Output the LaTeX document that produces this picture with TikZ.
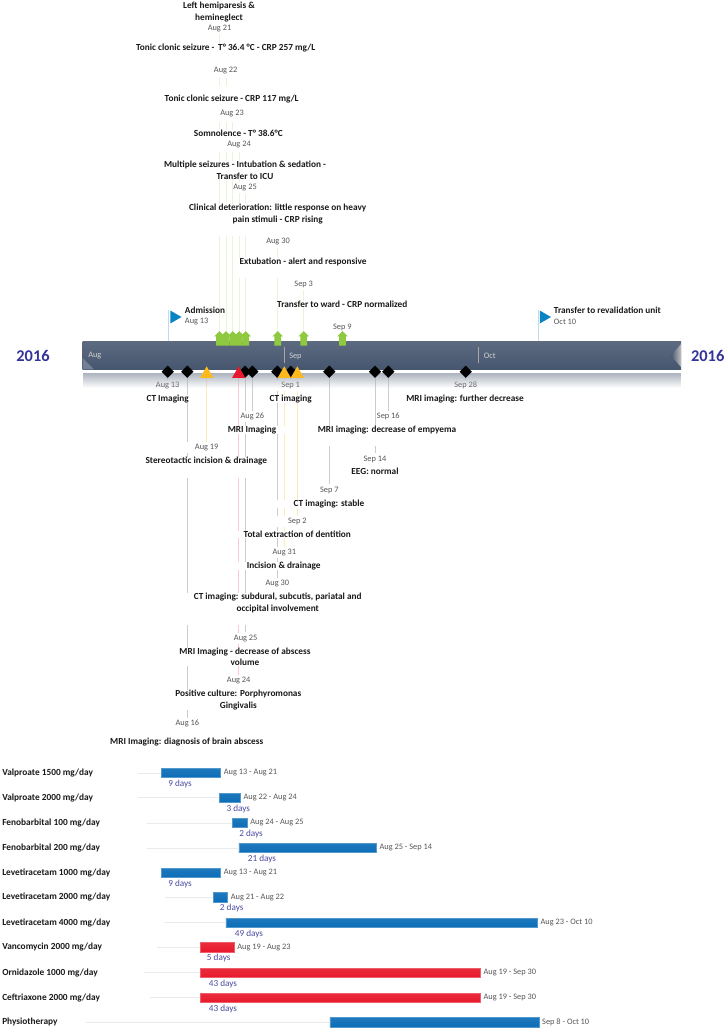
\documentclass[tikz,border=0pt]{standalone}
\usepackage{fontspec}
\setmainfont{Carlito}
\usetikzlibrary{positioning,shapes.geometric,shapes.arrows,fadings}
\definecolor{MyBar}{HTML}{46566F}
\definecolor{MyYear}{HTML}{33339A}
\definecolor{MyDate}{HTML}{555555}
\definecolor{MyDays}{HTML}{4A4AA0}
\definecolor{MyGreen}{HTML}{8FC93F}
\definecolor{MyYellow}{HTML}{FBB91C}
\definecolor{MyRed}{HTML}{E8192C}
\definecolor{MyBlue}{HTML}{0B6DB7}
\newcommand{\padbelow}[1]{\rule[-#1pt]{0pt}{0pt}}
\newcommand{\padabove}[1]{\rule{0pt}{#1pt}}
\pgfdeclarelayer{background}
\pgfdeclarelayer{foreground}
\pgfsetlayers{background,main,foreground}
\tikzset{
    evtitle/.style={
      anchor=north,
      yshift=-1.1pt,
      align=center,
      fill=white,
      inner sep=0pt,
      text=black!90,
      font=\fontsize{6.95}{8.6}\selectfont\bfseries
    },
    evdate/.style={
      fill=white,
      inner sep=0.5pt,
      minimum height=8.6pt,
      text=MyDate,
      font=\fontsize{6.25}{8}\selectfont
    },
    flagtitle/.style={
      anchor=west,
      inner sep=0pt,
      text=black!90,
      font=\fontsize{6.95}{8.6}\selectfont\bfseries
    },
    flagdate/.style={
      anchor=west,
      inner sep=0pt,
      text=MyDate,
      font=\fontsize{6.25}{8}\selectfont
    },
    yearlabel/.style={text=MyYear, font=\fontsize{12.3}{14}\selectfont\bfseries},
    monthlabel/.style={anchor=west, inner sep=0pt, text=black!18, font=\fontsize{6.25}{8}\selectfont},
    arrowmark/.style={
      single arrow,
      shape border rotate=90,
      fill=MyGreen,
      inner sep=2.3pt,
      minimum height=10.8pt,
      single arrow head extend=1.5pt
    },
    diamondmark/.style={diamond, fill=black, inner sep=0pt, minimum width=9.4pt, minimum height=9.4pt},
    yellowmark/.style={regular polygon, regular polygon sides=3, fill=MyYellow, inner sep=0pt, minimum size=11.5pt},
    redmark/.style={regular polygon, regular polygon sides=3, fill=MyRed, inner sep=0pt, minimum size=11.5pt},
    flagmark/.style={regular polygon, regular polygon sides=3, shape border rotate=-90, fill=MyBlue!85!cyan, inner sep=0pt, minimum size=11.25pt},
    stemgreen/.style={draw=MyGreen!20, line width=0.6pt},
    stemgray/.style={draw=black!20, line width=0.7pt},
    stemyellow/.style={draw=MyYellow!30, line width=0.7pt},
    stemred/.style={draw=MyRed!22, line width=0.7pt},
    polestem/.style={draw=MyBlue!25, line width=0.7pt},
    leadline/.style={draw=black!8, line width=0.7pt},
    bluebar/.style={anchor=west, draw=MyBlue!70, line width=0.3pt, top color=MyBlue!92!white, bottom color=MyBlue, inner sep=0pt, minimum height=7pt},
    redbar/.style={anchor=west, draw=MyRed!70, line width=0.3pt, top color=MyRed!92!white, bottom color=MyRed, inner sep=0pt, minimum height=7pt},
    druglabel/.style={anchor=west, inner sep=0pt, text=black!90, font=\fontsize{7}{8}\selectfont\bfseries},
    rangelabel/.style={anchor=west, inner sep=0pt, text=MyDate, font=\fontsize{6.25}{8}\selectfont},
    dayslabel/.style={inner sep=0pt, text=MyDays, font=\fontsize{6.9}{8}\selectfont},
}

\begin{document}
\begin{tikzpicture}[x=0.75pt,y=-0.75pt]
    \useasboundingbox (0,0) rectangle (726,1029);

    % events above the bar
    \node[evtitle] at (219,0.3) (tupAugXXI) {Left hemiparesis \&\\hemineglect};
    \node[evdate] at (219.5,28.3) (dupAugXXI) {Aug 21};
    \node[evtitle] at (225.7,42.6) (tupAugXXII) {Tonic clonic seizure - \,T° 36.4 °C - CRP 257 mg/L\padbelow{20}};
    \node[evdate] at (225.7,71) (dupAugXXII) {Aug 22};
    \node[evtitle] at (231.7,84) (tupAugXXIII) {\padabove{11.5}Tonic clonic seizure - CRP 117 mg/L\padbelow{15.7}};
    \node[evdate] at (232,113.7) (dupAugXXIII) {Aug 23};
    \node[evtitle] at (238.3,128.3) (tupAugXXIV) {Somnolence - T° 38.6°C\padbelow{11.5}};
    \node[evdate] at (239,145) (dupAugXXIV) {Aug 24};
    \node[evtitle] at (245,159.3) (tupAugXXV) {Multiple seizures - Intubation \& sedation -\\Transfer to ICU};
    \node[evdate] at (245,187.7) (dupAugXXV) {Aug 25};
    \node[evtitle] at (277.7,202.3) (tupAugXXX) {Clinical deterioration: little response on heavy\\pain stimuli - CRP rising\padbelow{10.7}};
    \node[evdate] at (278,241.7) (dupAugXXX) {Aug 30};
    \node[evtitle,minimum width=97.5pt] at (303,256.3) (tupSepIII) {Extubation - alert and responsive\padbelow{10}};
    \node[evdate] at (303.7,284) (dupSepIII) {Sep 3};
    \node[evtitle] at (342.3,299) (tupSepIX) {Transfer to ward - CRP normalized};
    \node[evdate] at (342.3,327) (dupSepIX) {Sep 9};

    % events below the bar
    \node[evtitle] at (167.7,392.8) (tloAugXIII) {CT Imaging};
    \node[evdate] at (167.7,385.7) (dloAugXIII) {Aug 13};
    \node[evtitle] at (290.7,392.8) (tloSepI) {CT imaging};
    \node[evdate,minimum width=30pt] at (290.7,385.7) (dloSepI) {Sep 1};
    \node[evtitle] at (465,392.8) (tloSepXXVIII) {MRI imaging: further decrease};
    \node[evdate] at (465.7,385.7) (dloSepXXVIII) {Sep 28};
    \node[evtitle,minimum width=52pt] at (252,424) (tloAugXXVI) {MRI Imaging};
    \node[evdate] at (252.3,416.7) (dloAugXXVI) {Aug 26};
    \node[evtitle] at (387,424) (tloSepXVI) {MRI imaging: decrease of empyema\padbelow{10.2}};
    \node[evdate] at (388.3,416.7) (dloSepXVI) {Sep 16};
    \node[evtitle] at (206.3,454.8) (tloAugXIX) {Stereotactic incision \& drainage\padbelow{10.9}};
    \node[evdate,minimum width=33pt] at (206.7,447.7) (dloAugXIX) {Aug 19};
    \node[evtitle] at (375,466.3) (tloSepXIV) {EEG: normal};
    \node[evdate] at (375,459.3) (dloSepXIV) {Sep 14};
    \node[evtitle,minimum width=80pt] at (329,498) (tloSepVII) {CT imaging: stable};
    \node[evdate] at (329.3,490) (dloSepVII) {Sep 7};
    \node[evtitle,minimum width=90pt] at (297.3,529.3) (tloSepII) {Total extraction of dentition};
    \node[evdate,minimum width=33pt] at (297.3,521.7) (dloSepII) {Sep 2};
    \node[evtitle,minimum width=70pt] at (283.7,560.3) (tloAugXXXI) {Incision \& drainage};
    \node[evdate] at (284.3,552.7) (dloAugXXXI) {Aug 31};
    \node[evtitle,minimum width=137pt] at (277.7,591.3) (tloAugXXX) {CT imaging: subdural, subcutis, pariatal and\\occipital involvement\padbelow{10.7}};
    \node[evdate] at (277.3,584) (dloAugXXX) {Aug 30};
    \node[evtitle] at (245,646) (tloAugXXV) {MRI Imaging - decrease of abscess\\volume};
    \node[evdate] at (245.7,638.3) (dloAugXXV) {Aug 25};
    \node[evtitle] at (238.3,688.3) (tloAugXXIV) {Positive culture: Porphyromonas\\Gingivalis};
    \node[evdate] at (238.7,680.7) (dloAugXXIV) {Aug 24};
    \node[evtitle] at (186.7,736.3) (tloAugXVI) {MRI Imaging: diagnosis of brain abscess};
    \node[evdate] at (187.3,723.7) (dloAugXVI) {Aug 16};

    \begin{pgfonlayer}{foreground}
      % time bar
      \shade[top color=MyBar!88!white, bottom color=MyBar] (82.7,341.7) rectangle (681,369.3);
      \fill[MyBar!75!white] (82.7,358) -- (94,369.3) -- (82.7,369.3) -- cycle;
      \shade[left color=MyBar, right color=black!25] (671,355.5) -- (681,344) -- (681,367) -- cycle;
      \fill[MyBar!45, path fading=south] (82.7,373) rectangle (681,388);
      \draw[black!35, line width=0.6pt] (284.3,347) -- (284.3,363);
      \draw[black!35, line width=0.6pt] (478.7,347) -- (478.7,363);
      \node[monthlabel] at (88,356) (mAug) {Aug};
      \node[monthlabel] at (289,356) (mSep) {Sep};
      \node[monthlabel] at (483.5,356) (mOct) {Oct};

      \foreach \name/\x in {upAugXXI/219.5,upAugXXII/226,upAugXXIII/232.7,upAugXXIV/239.3,upAugXXV/245.7,upAugXXX/277.7,upSepIII/303.7,upSepIX/342.5} {
        \node[arrowmark] at (\x,340) (\name) {};
      }
      \foreach \name/\x in {loAugXIII/167.7,loAugXVI/187.3,loAugXXV/245,loAugXXVI/252.3,loAugXXX/277.3,loSepI/290.7,loSepVII/329.3,loSepXIV/375,loSepXVI/388.3,loSepXXVIII/465.7} {
        \node[diamondmark] at (\x,371.7) (\name) {};
      }
      \foreach \name/\x in {loAugXIX/206.7,loAugXXXI/284.3,loSepII/297.3} {
        \node[yellowmark] at (\x,374) (\name) {};
      }
      \node[redmark] at (238.7,374) (loAugXXIV) {};
    \end{pgfonlayer}

    % stems go behind the white label boxes
    \begin{pgfonlayer}{background}
      \foreach \name in {upAugXXI,upAugXXII,upAugXXIII,upAugXXIV,upAugXXV,upAugXXX,upSepIII,upSepIX} {
        \draw[stemgreen] (\name) -- (\name |- d\name.south);
      }
      \foreach \name in {loAugXIII,loAugXVI,loAugXXV,loAugXXVI,loAugXXX,loSepI,loSepVII,loSepXIV,loSepXVI,loSepXXVIII} {
        \draw[stemgray] (\name) -- (\name |- d\name.north);
      }
      \foreach \name in {loAugXIX,loAugXXXI,loSepII} {
        \draw[stemyellow] (\name) -- (\name |- d\name.north);
      }
      \draw[stemred] (loAugXXIV) -- (loAugXXIV |- dloAugXXIV.north);
    \end{pgfonlayer}

    % flags
    \node[flagmark] at (174,317) (flagAdm) {};
    \node[flagtitle] at (184.7,310) (tflagAdm) {Admission};
    \node[flagdate] at (184.7,322) (dflagAdm) {Aug 13};
    \coordinate (poleAdm) at (168.5,341.7);
    \draw[polestem] (poleAdm) -- (poleAdm |- flagAdm.corner 2);

    \node[flagmark] at (543.5,317) (flagRev) {};
    \node[flagtitle] at (553.7,310) (tflagRev) {Transfer to revalidation unit};
    \node[flagdate] at (553.7,322) (dflagRev) {Oct 10};
    \coordinate (poleRev) at (538,341.7);
    \draw[polestem] (poleRev) -- (poleRev |- flagRev.corner 2);

    \node[yearlabel] at (33,356) (yearL) {2016};
    \node[yearlabel] at (707.7,356) (yearR) {2016};

    % treatment rows
    \foreach \i/\y/\xa/\xb/\lx/\kind/\dx/\drugname/\period/\dur in {
      a/773/161/220.3/137.7/bluebar/180/Valproate 1500 mg\slash day/Aug 13 - Aug 21/9 days,
      b/797.7/219/240/137.7/bluebar/238.3/Valproate 2000 mg\slash day/Aug 22 - Aug 24/3 days,
      c/823/232.3/246.7/146.7/bluebar/251/Fenobarbital 100 mg\slash day/Aug 24 - Aug 25/2 days,
      d/848/238.7/376/146.7/bluebar/262/Fenobarbital 200 mg\slash day/Aug 25 - Sep 14/21 days,
      e/873/161/220.3/161/bluebar/180/Levetiracetam 1000 mg\slash day/Aug 13 - Aug 21/9 days,
      f/897.3/213/227.3/165/bluebar/231.7/Levetiracetam 2000 mg\slash day/Aug 21 - Aug 22/2 days,
      g/922.7/225.7/537/164/bluebar/249/Levetiracetam 4000 mg\slash day/Aug 23 - Oct 10/49 days,
      h/947.3/200/233.7/157/redbar/218.7/Vancomycin 2000 mg\slash day/Aug 19 - Aug 23/5 days,
      i/972.7/200/480/144/redbar/223/Ornidazole 1000 mg\slash day/Aug 19 - Sep 30/43 days,
      j/997.7/200/480/150/redbar/223/Ceftriaxone 2000 mg\slash day/Aug 19 - Sep 30/43 days} {
      \node[\kind,minimum width=(\xb-\xa)*0.75pt] at (\xa,\y) (bar\i) {};
      \coordinate (lead\i) at (\lx,\y);
      \draw[leadline] (lead\i) -- (bar\i.west);
      \node[druglabel] at (2,\y) (drug\i) {\drugname};
      \node[rangelabel] at ([xshift=2.2pt]bar\i.east) (range\i) {\period};
      \node[dayslabel] at (\dx,\y+11.2) (days\i) {\dur};
    }

    \node[bluebar,minimum width=156.7pt] at (329.7,1022.3) (bark) {};
    \coordinate (leadk) at (86,1022.3);
    \draw[leadline] (leadk) -- (bark.west);
    \node[druglabel] at (2,1022.3) (drugk) {Physiotherapy};
    \node[rangelabel] at ([xshift=2.2pt]bark.east) (rangek) {Sep 8 - Oct 10};

\end{tikzpicture}
\end{document}
